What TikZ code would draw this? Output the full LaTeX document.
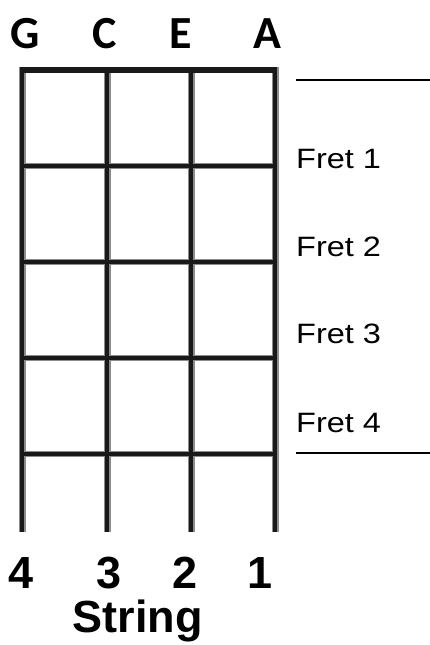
\documentclass[tikz,border=0pt]{standalone}
\usepackage{fontspec}
\setmainfont{Liberation Sans}
\newfontfamily\notefont{Carlito}
\newfontfamily\fretfont[FakeStretch=1.16]{Liberation Sans}
\usetikzlibrary{positioning}

\begin{document}
\begin{tikzpicture}[
    x=1pt,y=-1pt,
    note/.style={font=\notefont\bfseries\fontsize{46}{46}\selectfont,anchor=base,inner sep=0pt},
    num/.style={font=\bfseries\fontsize{45}{45}\selectfont,anchor=base,inner sep=0pt},
    fretlabel/.style={font=\fretfont\fontsize{28}{28}\selectfont,anchor=base west,inner sep=0pt},
    halo/.style={line width=7pt,black!45},
    core/.style={line width=3.5pt,black!90},
    rule/.style={line width=1.8pt}]
  \useasboundingbox (0,0) rectangle (430,645);
  % strings with their tuning on top
  \foreach \x/\n/\lx [count=\i] in {22/G/25,107/C/105,191/E/181,275/A/267} {
    \coordinate (top\i) at (\x,67);
    \coordinate (end\i) at (\x,532);
    \draw[halo] (top\i) -- (end\i);
    \node[note] (note\i) at (\lx,48) {\n};
  }
  % nut and frets
  \foreach \y [count=\j from 0] in {70,166,262,358,454} {
    \coordinate (fl\j) at (22,\y);
    \coordinate (fr\j) at (275,\y);
    \draw[halo,line width=6pt,line cap=rect] (fl\j) -- (fr\j);
  }
  \foreach \i in {1,...,4} \draw[core] (top\i) -- (end\i);
  \draw[core,line width=6pt] (fl0) -- (fr0);
  \foreach \j in {1,...,4} \draw[core] (fl\j) -- (fr\j);
  % fret names on the right
  \foreach \y [count=\k] in {168,256,343,432}
    \node[fretlabel] (fret\k) at (296,\y) {Fret \k};
  \coordinate (ra) at (296,80);
  \coordinate (rb) at (430,80);
  \coordinate (rc) at (296,453);
  \coordinate (rd) at (430,453);
  \draw[rule] (ra) -- (rb);
  \draw[rule] (rc) -- (rd);
  % string numbers
  \foreach \x/\s in {21/4,109/3,185/2,260/1}
    \node[num] (num\s) at (\x,588) {\s};
  \node[num] (strname) at (137.5,632) {String};
\end{tikzpicture}
\end{document}
